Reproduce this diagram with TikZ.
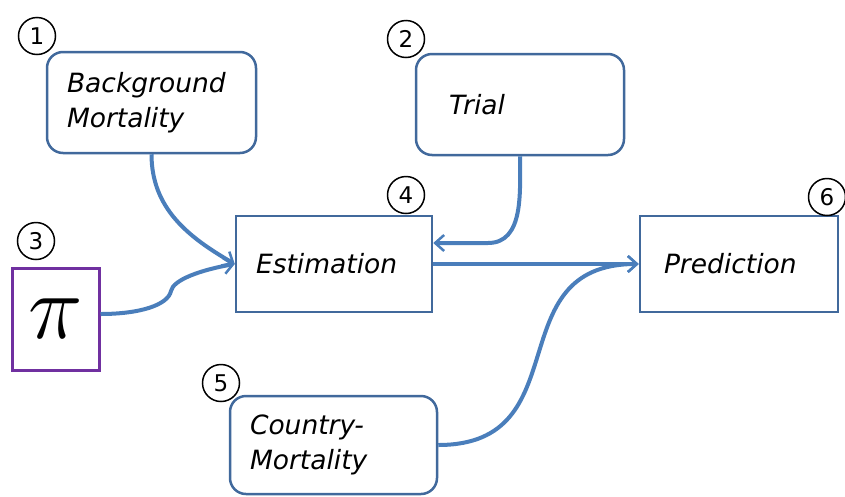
\documentclass[tikz,border=0pt]{standalone}
\usepackage{fix-cm}
\usepackage{fontspec}
\setmainfont{DejaVu Sans}
\usetikzlibrary{arrows.meta}
\definecolor{boxblue}{HTML}{41699C}
\definecolor{flowblue}{HTML}{4A7EBB}
\definecolor{pipurple}{HTML}{7030A0}
\tikzstyle{block}=[rectangle,draw=boxblue,line width=2.5pt,align=left,inner xsep=20pt,font=\fontsize{26.5}{35}\selectfont\itshape]
\tikzstyle{rblock}=[block,rounded corners=16pt]
\tikzstyle{num}=[circle,draw=black,line width=1.5pt,minimum size=37pt,inner sep=0pt,font=\fontsize{23}{23}\selectfont]
\tikzstyle{flow}=[draw=flowblue,line width=4pt,-{Straight Barb[length=9pt,width=16pt,line width=2.5pt]}]

\begin{document}
\begin{tikzpicture}[x=1pt,y=-1pt]
    \useasboundingbox (0,0) rectangle (845,496);
    % First we draw the blocks
    \node[rblock,text width=169pt,minimum height=101pt] (bg) at (151.5,102.5) {Background\\Mortality};
    \node[rblock,text width=142pt,minimum height=101pt,inner xsep=33pt] (trial) at (520,104.5) {Trial};
    \node[block,text width=156pt,minimum height=96pt] (est) at (334,264) {Estimation};
    \node[block,text width=150pt,minimum height=96pt,inner xsep=24pt] (pred) at (739,264) {Prediction};
    \node[rblock,text width=167pt,minimum height=98pt] (country) at (333.5,445) {Country-\\Mortality};
    \node[draw=pipurple,line width=3pt,minimum width=87pt,minimum height=102pt] (pi) at (55.5,319) {\fontsize{92}{92}\selectfont$\pi$};
    % Then the numbers
    \foreach \pos/\name in {{(37,36)/1}, {(406,39)/2}, {(36,241)/3}, {(406,195)/4}, {(221,383)/5}, {(827,197)/6}}
        \node[num] (n\name) at \pos {\name};
    % Connect blocks with arrows
    \coordinate (bend) at (488,243);
    \coordinate (kink) at (171,291);
    \path[flow] (bg.south) to[out=-90,in=150] (est.west);
    \path[flow] (trial.south) to[out=-90,in=0] (bend) -- (bend -| est.east);
    \path[flow] ([yshift=5pt]pi.east) .. controls (140,314) and (168,305) .. (kink) .. controls (173,280) and (200,270) .. (est.west);
    \path[flow] (est) -- (pred);
    \path[flow] (country.east) to[out=0,in=180,looseness=1.35] (pred.west);
\end{tikzpicture}
\end{document}
